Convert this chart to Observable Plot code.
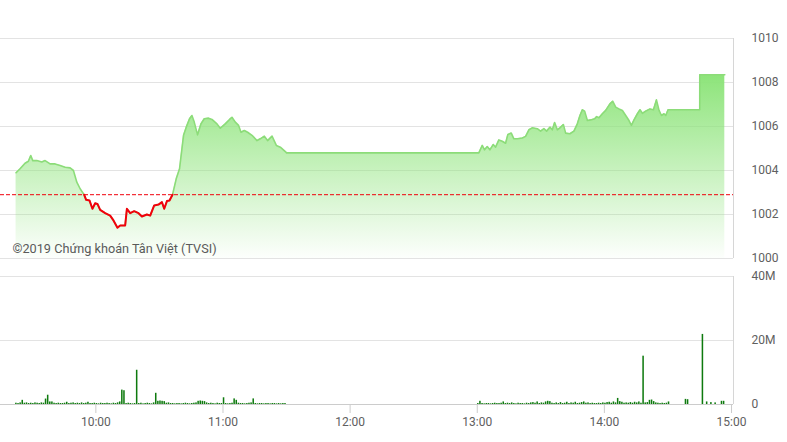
<!DOCTYPE html>
<html><head><meta charset="utf-8">
<script src="https://cdn.jsdelivr.net/npm/d3@7"></script>
<script src="https://cdn.jsdelivr.net/npm/@observablehq/plot@0.6"></script>
<style>
html,body{margin:0;padding:0;background:#fff;}
#wrap{position:relative;width:787px;height:442px;font-family:Roboto,sans-serif;}
#wrap svg{position:absolute;left:0;display:block;overflow:visible;}
</style></head><body><div id="wrap"></div>
<script>
const priceTimes = [
"09:22:21","09:24:14","09:26:36","09:28:10","09:29:17","09:30:14","09:32:08","09:34:29","09:36:03","09:38:25",
"09:40:46","09:43:08","09:45:30","09:47:51","09:49:25","09:51:01","09:52:35","09:54:28","09:55:25","09:56:59",
"09:58:23","09:59:40","10:00:45","10:02:02","10:04:24","10:06:45","10:08:19","10:10:12","10:11:29","10:13:50",
"10:14:39","10:16:12","10:18:05","10:20:08","10:21:44","10:24:05","10:25:39","10:27:32","10:29:34","10:31:11",
"10:32:16","10:33:33","10:34:46","10:36:11","10:37:56","10:39:30","10:41:23","10:42:40","10:44:13","10:45:21",
"10:46:26","10:48:00","10:49:37","10:51:10","10:53:12","10:54:48","10:57:10","10:58:43","11:01:05","11:03:07",
"11:04:15","11:05:49","11:07:22","11:08:30","11:10:04","11:11:37","11:13:42","11:16:04","11:17:37","11:19:31",
"11:21:04","11:23:09","11:25:11","11:27:04","11:29:26","11:30:00","13:00:45","13:02:22","13:03:27","13:04:43",
"13:05:57","13:07:34","13:08:39","13:10:12","13:11:49","13:13:22","13:14:27","13:16:04","13:17:17","13:18:54",
"13:21:16","13:22:49","13:24:23","13:25:59","13:28:21","13:29:54","13:31:28","13:32:44","13:34:18","13:35:26",
"13:36:31","13:37:47","13:39:01","13:40:38","13:41:43","13:43:44","13:45:38","13:47:14","13:48:28","13:49:36",
"13:50:41","13:51:58","13:53:31","13:55:25","13:56:22","13:57:27","13:59:03","14:00:37","14:02:38","14:03:55",
"14:05:20","14:06:54","14:08:30","14:10:04","14:11:37","14:12:45","14:13:59","14:15:35","14:16:49","14:17:57",
"14:19:31","14:21:32","14:23:09","14:24:34","14:25:48","14:26:56","14:28:10","14:28:58","14:30:03","14:45:00",
"14:45:01","14:56:50"];
const priceValues = [
1003.9,1004.08,1004.33,1004.42,1004.68,1004.45,1004.45,1004.39,1004.45,1004.3,
1004.3,1004.23,1004.15,1004.12,1004.0,1003.47,1003.17,1002.9,1002.67,1002.64,
1002.26,1002.51,1002.48,1002.21,1002.06,1001.95,1001.73,1001.4,1001.5,1001.5,
1002.26,1002.06,1002.15,1002.06,1001.91,1002.0,1001.95,1002.41,1002.45,1002.56,
1002.26,1002.61,1002.64,1002.9,1003.62,1004.08,1005.6,1005.97,1006.35,1006.5,
1006.2,1005.62,1006.12,1006.35,1006.38,1006.32,1006.12,1005.92,1006.12,1006.32,
1006.42,1006.2,1006.05,1005.74,1005.82,1005.74,1005.6,1005.36,1005.44,1005.56,
1005.36,1005.56,1005.14,1005.06,1004.86,1004.8,1004.8,1005.14,1004.94,1005.09,
1004.94,1005.18,1005.06,1005.39,1005.33,1005.24,1005.64,1005.7,1005.44,1005.44,
1005.48,1005.55,1005.85,1005.94,1005.9,1005.79,1005.9,1005.79,1005.97,1005.85,
1006.18,1005.85,1005.94,1006.09,1005.7,1005.67,1005.79,1006.12,1006.5,1006.76,
1006.7,1006.27,1006.3,1006.35,1006.45,1006.4,1006.58,1006.73,1007.03,1007.15,
1006.88,1006.8,1006.73,1006.5,1006.27,1006.05,1006.3,1006.58,1006.76,1006.6,
1006.7,1006.8,1006.76,1007.21,1006.73,1006.5,1006.58,1006.5,1006.76,1006.76,
1008.35,1008.35];
const referencePrice = 1002.9;
const priceTicks = [1000,1002,1004,1006,1008,1010];
const volumeTicks = [0,20,40];
const volumeTickLabels = ["0","20M","40M"];
const timeTicks = ["10:00","11:00","12:00","13:00","14:00","15:00"];
const domainStart = "09:15:00";
const domainEnd = "15:00:56";
const watermark = "©2019 Chứng khoán Tân Việt (TVSI)";

// volumes in millions, one bar per minute
const morningVolStart = "09:22";
const morningVolumes = [
0.4,0.3,0.5,1.3,0.4,0.5,0.3,0.4,0.3,0.5,
0.4,0.3,0.5,0.4,1.7,2.9,0.8,0.8,0.4,0.3,
0.4,0.3,0.3,0.4,0.7,0.3,0.4,0.5,0.3,0.4,
0.3,0.5,0.3,0.4,0.7,0.3,0.3,0.4,0.3,0.2,
0.4,0.3,0.3,0.4,0.3,0.2,0.4,0.3,0.5,0.8,
4.5,4.3,0.3,0.4,0.3,0.2,0.3,10.7,0.3,0.4,
0.2,0.3,0.4,0.3,0.2,0.5,3.5,1.0,1.1,1.0,
0.9,0.4,0.5,0.3,0.3,0.2,0.3,0.3,0.2,0.3,
0.4,0.3,0.2,0.3,0.4,0.5,1.0,1.1,1.0,0.9,
0.5,0.3,0.4,0.3,0.2,0.4,0.3,0.3,2.1,0.3,
0.2,0.3,0.4,1.75,1.3,0.4,0.3,0.3,0.2,0.3,
0.4,0.5,1.75,0.3,0.2,0.3,0.3,0.2,0.3,0.3,
0.2,0.3,0.3,0.2,0.3,0.2,0.3,0.3];
const afternoonVolStart = "13:00";
const afternoonVolumes = [
0.3,1.0,0.3,0.2,0.3,0.3,0.2,0.3,0.4,0.3,
0.3,0.4,0.8,0.3,0.4,0.3,0.5,0.3,0.2,0.4,
0.3,0.3,0.2,0.4,0.3,0.5,0.6,0.4,0.8,0.3,
0.5,0.4,0.8,1.0,0.9,0.4,0.3,0.5,0.3,0.6,
0.3,0.4,0.7,0.3,0.5,0.4,0.7,0.3,0.4,0.6,
0.8,0.4,0.5,0.3,0.4,0.3,0.3,0.4,0.3,0.5,
0.4,0.6,0.7,0.4,0.8,0.5,1.9,0.9,0.7,0.4,
0.5,0.4,0.6,0.4,0.7,0.5,0.8,0.4,15.1,0.5,
0.6,1.3,1.4,0.9,0.5,0.4,0.3,0.4,0.3,0.4,0.8];
const lateVolTimes = ["14:38","14:39","14:46","14:48","14:50","14:52","14:55","14:56"];
const lateVolumes = [1.6,1.5,21.9,0.8,0.6,0.5,1.0,1.0];

const T = s => new Date(`2019-01-01T${s.length === 5 ? s + ":00" : s}Z`);
const price = priceTimes.map((t, i) => ({t: T(t), v: priceValues[i]}));
const below = price.filter(d => d.v <= referencePrice);
const vol = [
  ...morningVolumes.map((v, i) => ({t: d3.utcMinute.offset(T(morningVolStart), i), v})),
  ...afternoonVolumes.map((v, i) => ({t: d3.utcMinute.offset(T(afternoonVolStart), i), v})),
  ...lateVolTimes.map((t, i) => ({t: T(t), v: lateVolumes[i]}))
];
const xDomain = [T(domainStart), T(domainEnd)];
const chartStyle = {fontFamily: "Roboto, sans-serif", fontSize: "12px", color: "#606060", background: "transparent", overflow: "visible"};

const gradient = () => {
  const defs = d3.create("svg:defs");
  const g = defs.append("linearGradient").attr("id", "priceGrad")
    .attr("x1", 0).attr("y1", 0).attr("x2", 0).attr("y2", 1);
  g.append("stop").attr("offset", "0%").attr("stop-color", "#8de47a").attr("stop-opacity", 1);
  g.append("stop").attr("offset", "100%").attr("stop-color", "#8de47a").attr("stop-opacity", 0.02);
  return defs.node();
};

const priceChart = Plot.plot({
  width: 787, height: 270,
  marginLeft: 0, marginRight: 54, marginTop: 38, marginBottom: 12,
  style: chartStyle,
  x: {type: "utc", domain: xDomain, axis: null},
  y: {domain: [priceTicks[0], priceTicks[priceTicks.length - 1]], ticks: priceTicks, axis: "right",
      tickSize: 0, tickPadding: 18, label: null, tickFormat: d => String(d)},
  marks: [
    gradient,
    Plot.ruleY(priceTicks, {stroke: "#e3e3e3", strokeWidth: 1}),
    Plot.ruleX([xDomain[1]], {y1: priceTicks[0], y2: priceTicks[priceTicks.length - 1], stroke: "#d6d6d6"}),
    Plot.areaY(price, {x: "t", y1: priceTicks[0], y2: "v", fill: "url(#priceGrad)"}),
    Plot.ruleY([referencePrice], {stroke: "#f0000c", strokeWidth: 1, strokeDasharray: "4,2"}),
    Plot.line(price, {x: "t", y: "v", stroke: "#8cdc79", strokeWidth: 1.6}),
    Plot.line(below, {x: "t", y: "v", stroke: "#f2000c", strokeWidth: 2}),
    Plot.text([watermark], {frameAnchor: "bottom-left", dx: 12, dy: -6, textAnchor: "start", lineAnchor: "bottom", fill: "#5a5a5a", fontSize: 12.7})
  ]
});
priceChart.style.top = "0px";

const volumeChart = Plot.plot({
  width: 787, height: 182,
  marginLeft: 0, marginRight: 54, marginTop: 16, marginBottom: 38,
  style: chartStyle,
  x: {type: "utc", domain: xDomain, ticks: timeTicks.map(T), tickFormat: d3.utcFormat("%H:%M"),
      tickSize: 9, tickPadding: 4, label: null},
  y: {domain: [volumeTicks[0], volumeTicks[volumeTicks.length - 1]], ticks: volumeTicks, axis: "right",
      tickSize: 0, tickPadding: 18, label: null, tickFormat: d => volumeTickLabels[volumeTicks.indexOf(d)]},
  marks: [
    Plot.ruleY(volumeTicks.slice(1), {stroke: "#e3e3e3"}),
    Plot.ruleX([xDomain[1]], {y1: volumeTicks[0], y2: volumeTicks[volumeTicks.length - 1], stroke: "#d6d6d6"}),
    Plot.rectY(vol, {x: "t", y: "v", interval: d3.utcMinute, fill: "#0e7a0e", insetLeft: 0.3, insetRight: 0.3}),
    Plot.ruleY([0], {stroke: "#cccccc"})
  ]
});
volumeChart.style.top = "260px";
volumeChart.querySelectorAll('[aria-label^="x-axis"] line, [aria-label^="x-axis"] path').forEach(el => el.setAttribute("stroke", "#cccccc"));

const wrap = document.getElementById("wrap");
wrap.appendChild(priceChart);
wrap.appendChild(volumeChart);
</script></body></html>
